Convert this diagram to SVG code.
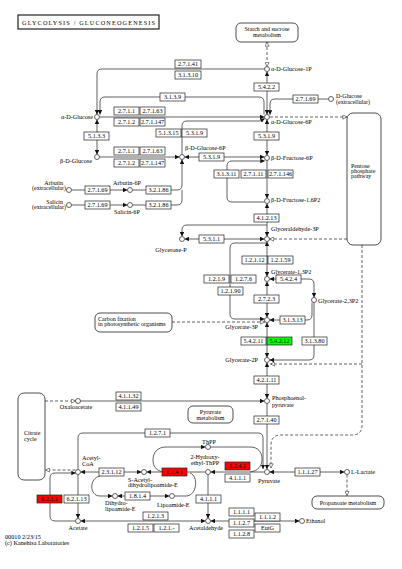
<svg xmlns="http://www.w3.org/2000/svg" width="402" height="569" viewBox="0 0 402 569">
<style>
.c{fill:none;stroke:#3a3a3a;stroke-width:0.8}
.d{fill:none;stroke:#3a3a3a;stroke-width:0.8;stroke-dasharray:3,2}
.n{fill:#fff;stroke:#222;stroke-width:0.7}
.b{fill:#fff;stroke:#222;stroke-width:0.7}
.r{fill:#ff0000;stroke:#222;stroke-width:0.7}
.g{fill:#00ff00;stroke:#222;stroke-width:0.7}
.m{fill:#fff;stroke:#222;stroke-width:0.8}
text{font-family:"Liberation Serif","DejaVu Serif",serif;font-size:6.2px;fill:#000}
.t{text-anchor:middle}
.e{text-anchor:end}
.s{font-size:6px}
</style>
<defs>
<marker id="a" viewBox="0 0 4 4" refX="4" refY="2" markerWidth="4.5" markerHeight="4.5" markerUnits="userSpaceOnUse" orient="auto-start-reverse"><path d="M0,0 L4,2 L0,4 z" fill="#111"/></marker>
<marker id="o" viewBox="0 0 5 5" refX="4.6" refY="2.5" markerWidth="5" markerHeight="5" markerUnits="userSpaceOnUse" orient="auto-start-reverse"><path d="M0.4,0.4 L4.6,2.5 L0.4,4.6 z" fill="#fff" stroke="#333" stroke-width="0.6"/></marker>
</defs>
<rect width="402" height="569" fill="#fff"/>

<g id="title"><rect x="18" y="15" width="141" height="14" fill="#fff" stroke="#222" stroke-width="1.2"/><text x="22" y="24.5" font-size="7.5" textLength="133">GLYCOLYSIS / GLUCONEOGENESIS</text></g>

<g id="connectors">
<path class="d" d="M267,42 V66.5" marker-start="url(#o)" marker-end="url(#o)"/>
<path class="c" d="M264.5,69 H102 Q97,69 97,74 V114.5" marker-end="url(#a)"/>
<path class="c" d="M100,114.5 V102 Q100,97 105,97 H259 Q264,97 264,102 V114.5" marker-start="url(#a)"/>
<path class="c" d="M328.5,99 H275 Q270,99 270,104 V114.8" marker-end="url(#a)"/>
<path class="c" d="M267,71.5 V114.5" marker-start="url(#a)" marker-end="url(#a)"/>
<path class="c" d="M99.5,117 H264.5" marker-end="url(#a)"/>
<path class="d" d="M270,117 H347" marker-end="url(#o)"/>
<path class="c" d="M97,119.5 V154.5" marker-start="url(#a)" marker-end="url(#a)"/>
<path class="c" d="M99.5,157 H179.5" marker-end="url(#a)"/>
<path class="c" d="M182,154.5 V126 Q182,121 187,121 H260 L264.8,118.6" marker-end="url(#a)"/>
<path class="c" d="M184.5,157 H264.5" marker-start="url(#a)" marker-end="url(#a)"/>
<path class="c" d="M267,119.5 V155.5" marker-start="url(#a)" marker-end="url(#a)"/>
<path class="c" d="M71.5,190 H127.5" marker-end="url(#a)"/>
<path class="c" d="M71.5,205 H127.5" marker-end="url(#a)"/>
<path class="c" d="M132.5,190 H177 Q182,190 182,185 V159.5" marker-end="url(#a)"/>
<path class="c" d="M132.5,205 H177 Q182,205 182,200 V190"/>
<path class="c" d="M267,160.5 V198.5" marker-end="url(#a)"/>
<path class="c" d="M264.5,202 H232 Q227,202 227,197 V166 Q227,161 232,161 H264.8" marker-end="url(#a)"/>
<path class="c" d="M267,203.5 V236.5" marker-start="url(#a)" marker-end="url(#a)"/>
<path class="c" d="M267,225 H187 Q182,225 182,230 V236.5" marker-end="url(#a)"/>
<path class="c" d="M184.5,239 H264.5" marker-start="url(#a)" marker-end="url(#a)"/>
<path class="d" d="M347,239 H269.5" marker-end="url(#o)"/>
<path class="c" d="M267,241.5 V276.5" marker-start="url(#a)" marker-end="url(#a)"/>
<path class="c" d="M267,243 H235 Q230,243 230,248 V314 Q230,319 235,319 H264.5" marker-end="url(#a)"/>
<path class="c" d="M269.5,279 H309 Q314,279 314,284 V297.5" marker-start="url(#a)" marker-end="url(#a)"/>
<path class="c" d="M267,281.5 V317.5" marker-start="url(#a)" marker-end="url(#a)"/>
<path class="c" d="M269.5,320 H307 Q312,320 312,315 V302.5" marker-start="url(#a)"/>
<path class="c" d="M314,302.5 V355 Q314,360 309,360 H269.5" marker-end="url(#a)"/>
<path class="d" d="M172,322 H264.8" marker-end="url(#o)"/>
<path class="c" d="M267,322.5 V357.5" marker-start="url(#a)" marker-end="url(#a)"/>
<path class="d" d="M362,245 V425 Q362,435 352,435 H281 Q271,435 271,445 V468" marker-end="url(#o)"/>
<path class="d" d="M362,364 H270.5" marker-end="url(#o)"/>
<path class="c" d="M267,362.5 V398.5" marker-start="url(#a)" marker-end="url(#a)"/>
<path class="c" d="M80.5,401 H264.5" marker-end="url(#a)"/>
<path class="d" d="M45,401 H75.5" marker-end="url(#o)"/>
<path class="c" d="M267,403.5 V469.3" marker-end="url(#a)"/>
<path class="c" d="M78,469.5 V438 Q78,433 83,433 H258 Q263,433 263,438 V469" marker-end="url(#a)"/>
<path class="c" d="M269.5,472 H344.5" marker-start="url(#a)" marker-end="url(#a)"/>
<path class="d" d="M347,474.5 V495.5" marker-end="url(#o)"/>
<path class="c" d="M264.5,472 H210.5" marker-end="url(#a)"/>
<path class="c" d="M166,472 C157,472 153,467 153,460 C153,452 158,447 166,447 H205.5" marker-end="url(#a)"/>
<path class="c" d="M210.5,447 H250 C258,447 262,452 262,459 C262,466 258,471 250,472"/>
<path class="c" d="M205.5,472 H146.5" marker-end="url(#a)"/>
<path class="c" d="M80.5,472 H141.5" marker-start="url(#a)" marker-end="url(#a)"/>
<path class="c" d="M100,476 C89,478 89,496 100,496 H112.5" marker-end="url(#a)"/>
<path class="c" d="M117.5,496 H169.5" marker-start="url(#a)" marker-end="url(#a)"/>
<path class="c" d="M174.5,496 H186 C197,496 199,476 190,473"/>
<path class="c" d="M208,474.5 V518.5" marker-end="url(#a)"/>
<path class="c" d="M80.5,521 H205.5" marker-start="url(#a)" marker-end="url(#a)"/>
<path class="c" d="M210.5,521 H299.5" marker-start="url(#a)" marker-end="url(#a)"/>
<path class="c" d="M78,474.5 V518.5" marker-end="url(#a)"/>
<path class="c" d="M75.5,521 H55 Q50,521 50,516 V478 Q50,473 55,473 H75.8" marker-end="url(#a)"/>
<path class="d" d="M75.5,470 H45.5" marker-end="url(#o)"/>
</g>

<g id="maps">
<g id="map-starch"><rect class="m" x="236" y="23" width="62" height="19" rx="5"/><text class="t s" x="267" y="31">Starch and sucrose</text><text class="t s" x="267" y="36.5">metabolism</text></g>
<g id="map-ppp"><rect class="m" x="347" y="113" width="34" height="132" rx="6"/><text class="s" x="351" y="168">Pentose</text><text class="s" x="351" y="173">phosphate</text><text class="s" x="351" y="178">pathway</text></g>
<g id="map-carbon"><rect class="m" x="95" y="313" width="77" height="19" rx="5"/><text class="s" x="98" y="320.5">Carbon fixation</text><text class="s" x="98" y="326">in photosynthetic organisms</text></g>
<g id="map-citrate"><rect class="m" x="18" y="393" width="27" height="87" rx="6"/><text class="s" x="24" y="435">Citrate</text><text class="s" x="24" y="441">cycle</text></g>
<g id="map-pyruvate"><rect class="m" x="188" y="406" width="45" height="17" rx="5"/><text class="t s" x="210.5" y="413.5">Pyruvate</text><text class="t s" x="210.5" y="419.5">metabolism</text></g>
<g id="map-propanoate"><rect class="m" x="312" y="496" width="72" height="13" rx="5"/><text class="t s" x="348" y="504.5">Propanoate metabolism</text></g>
</g>

<g id="enzymes">
<g id="e2_7_1_41"><rect class="b" x="175" y="60" width="26" height="8"/><text class="t" x="188" y="66.2">2.7.1.41</text></g>
<g id="e3_1_3_10"><rect class="b" x="175" y="71" width="26" height="8"/><text class="t" x="188" y="77.2">3.1.3.10</text></g>
<g id="e5_4_2_2"><rect class="b" x="254" y="83" width="25" height="8"/><text class="t" x="266.5" y="89.2">5.4.2.2</text></g>
<g id="e3_1_3_9"><rect class="b" x="160" y="93" width="25" height="8"/><text class="t" x="172.5" y="99.2">3.1.3.9</text></g>
<g id="e2_7_1_69a"><rect class="b" x="293" y="95" width="25" height="8"/><text class="t" x="305.5" y="101.2">2.7.1.69</text></g>
<g id="e2_7_1_1a"><rect class="b" x="114" y="107" width="25" height="8"/><text class="t" x="126.5" y="113.2">2.7.1.1</text></g>
<g id="e2_7_1_63a"><rect class="b" x="140" y="107" width="25" height="8"/><text class="t" x="152.5" y="113.2">2.7.1.63</text></g>
<g id="e2_7_1_2a"><rect class="b" x="114" y="118" width="25" height="8"/><text class="t" x="126.5" y="124.2">2.7.1.2</text></g>
<g id="e2_7_1_147a"><rect class="b" x="140" y="118" width="25" height="8"/><text class="t" x="152.5" y="124.2">2.7.1.147</text></g>
<g id="e5_1_3_3"><rect class="b" x="84" y="132" width="25" height="8"/><text class="t" x="96.5" y="138.2">5.1.3.3</text></g>
<g id="e5_1_3_15"><rect class="b" x="156" y="129" width="25" height="8"/><text class="t" x="168.5" y="135.2">5.1.3.15</text></g>
<g id="e5_3_1_9a"><rect class="b" x="182" y="129" width="25" height="8"/><text class="t" x="194.5" y="135.2">5.3.1.9</text></g>
<g id="e5_3_1_9b"><rect class="b" x="254" y="132" width="25" height="8"/><text class="t" x="266.5" y="138.2">5.3.1.9</text></g>
<g id="e2_7_1_1b"><rect class="b" x="114" y="147" width="25" height="8"/><text class="t" x="126.5" y="153.2">2.7.1.1</text></g>
<g id="e2_7_1_63b"><rect class="b" x="140" y="147" width="25" height="8"/><text class="t" x="152.5" y="153.2">2.7.1.63</text></g>
<g id="e2_7_1_2b"><rect class="b" x="114" y="159" width="25" height="8"/><text class="t" x="126.5" y="165.2">2.7.1.2</text></g>
<g id="e2_7_1_147b"><rect class="b" x="140" y="159" width="25" height="8"/><text class="t" x="152.5" y="165.2">2.7.1.147</text></g>
<g id="e5_3_1_9c"><rect class="b" x="199" y="153" width="25" height="8"/><text class="t" x="211.5" y="159.2">5.3.1.9</text></g>
<g id="e2_7_1_69b"><rect class="b" x="85" y="186" width="25" height="8"/><text class="t" x="97.5" y="192.2">2.7.1.69</text></g>
<g id="e2_7_1_69c"><rect class="b" x="85" y="201" width="25" height="8"/><text class="t" x="97.5" y="207.2">2.7.1.69</text></g>
<g id="e3_2_1_86a"><rect class="b" x="146" y="186" width="25" height="8"/><text class="t" x="158.5" y="192.2">3.2.1.86</text></g>
<g id="e3_2_1_86b"><rect class="b" x="146" y="201" width="25" height="8"/><text class="t" x="158.5" y="207.2">3.2.1.86</text></g>
<g id="e3_1_3_11"><rect class="b" x="214" y="170" width="25" height="8"/><text class="t" x="226.5" y="176.2">3.1.3.11</text></g>
<g id="e2_7_1_11"><rect class="b" x="241" y="170" width="25" height="8"/><text class="t" x="253.5" y="176.2">2.7.1.11</text></g>
<g id="e2_7_1_146"><rect class="b" x="268" y="170" width="25" height="8"/><text class="t" x="280.5" y="176.2">2.7.1.146</text></g>
<g id="e4_1_2_13"><rect class="b" x="254" y="214" width="25" height="8"/><text class="t" x="266.5" y="220.2">4.1.2.13</text></g>
<g id="e5_3_1_1"><rect class="b" x="199" y="235" width="25" height="8"/><text class="t" x="211.5" y="241.2">5.3.1.1</text></g>
<g id="e1_2_1_12"><rect class="b" x="242" y="256" width="25" height="8"/><text class="t" x="254.5" y="262.2">1.2.1.12</text></g>
<g id="e1_2_1_59"><rect class="b" x="268" y="256" width="25" height="8"/><text class="t" x="280.5" y="262.2">1.2.1.59</text></g>
<g id="e1_2_1_9"><rect class="b" x="204" y="275" width="25" height="8"/><text class="t" x="216.5" y="281.2">1.2.1.9</text></g>
<g id="e1_2_7_6"><rect class="b" x="231" y="275" width="25" height="8"/><text class="t" x="243.5" y="281.2">1.2.7.6</text></g>
<g id="e1_2_1_90"><rect class="b" x="218" y="287" width="25" height="8"/><text class="t" x="230.5" y="293.2">1.2.1.90</text></g>
<g id="e5_4_2_4"><rect class="b" x="276" y="275" width="25" height="8"/><text class="t" x="288.5" y="281.2">5.4.2.4</text></g>
<g id="e2_7_2_3"><rect class="b" x="254" y="295" width="25" height="8"/><text class="t" x="266.5" y="301.2">2.7.2.3</text></g>
<g id="e3_1_3_13"><rect class="b" x="280" y="316" width="25" height="8"/><text class="t" x="292.5" y="322.2">3.1.3.13</text></g>
<g id="e5_4_2_11"><rect class="b" x="241" y="337" width="25" height="8"/><text class="t" x="253.5" y="343.2">5.4.2.11</text></g>
<g id="e5_4_2_12"><rect class="g" x="267" y="337" width="25" height="8"/><text class="t" x="279.5" y="343.2">5.4.2.12</text></g>
<g id="e3_1_3_80"><rect class="b" x="302" y="337" width="25" height="8"/><text class="t" x="314.5" y="343.2">3.1.3.80</text></g>
<g id="e4_2_1_11"><rect class="b" x="254" y="376" width="25" height="8"/><text class="t" x="266.5" y="382.2">4.2.1.11</text></g>
<g id="e4_1_1_32"><rect class="b" x="116" y="392" width="25" height="8"/><text class="t" x="128.5" y="398.2">4.1.1.32</text></g>
<g id="e4_1_1_49"><rect class="b" x="116" y="403" width="25" height="8"/><text class="t" x="128.5" y="409.2">4.1.1.49</text></g>
<g id="e2_7_1_40"><rect class="b" x="254" y="416" width="25" height="8"/><text class="t" x="266.5" y="422.2">2.7.1.40</text></g>
<g id="e1_2_7_1"><rect class="b" x="145" y="429" width="25" height="8"/><text class="t" x="157.5" y="435.2">1.2.7.1</text></g>
<g id="e2_3_1_12"><rect class="b" x="99" y="468" width="25" height="8"/><text class="t" x="111.5" y="474.2">2.3.1.12</text></g>
<g id="e1_2_4_1a"><rect class="r" x="162" y="468" width="25" height="8"/><text class="t" x="174.5" y="474.2">1.2.4.1</text></g>
<g id="e1_2_4_1b"><rect class="r" x="225" y="462" width="25" height="8"/><text class="t" x="237.5" y="468.2">1.2.4.1</text></g>
<g id="e4_1_1_1a"><rect class="b" x="225" y="474" width="25" height="8"/><text class="t" x="237.5" y="480.2">4.1.1.1</text></g>
<g id="e1_1_1_27"><rect class="b" x="295" y="468" width="25" height="8"/><text class="t" x="307.5" y="474.2">1.1.1.27</text></g>
<g id="e6_2_1_1"><rect class="r" x="37" y="495" width="25" height="8"/><text class="t" x="49.5" y="501.2">6.2.1.1</text></g>
<g id="e6_2_1_13"><rect class="b" x="64" y="495" width="25" height="8"/><text class="t" x="76.5" y="501.2">6.2.1.13</text></g>
<g id="e1_8_1_4"><rect class="b" x="125" y="492" width="25" height="8"/><text class="t" x="137.5" y="498.2">1.8.1.4</text></g>
<g id="e4_1_1_1b"><rect class="b" x="196" y="495" width="25" height="8"/><text class="t" x="208.5" y="501.2">4.1.1.1</text></g>
<g id="e1_2_1_3"><rect class="b" x="143" y="512" width="25" height="8"/><text class="t" x="155.5" y="518.2">1.2.1.3</text></g>
<g id="e1_2_1_5"><rect class="b" x="128" y="524" width="25" height="8"/><text class="t" x="140.5" y="530.2">1.2.1.5</text></g>
<g id="e1_2_1_x"><rect class="b" x="154" y="524" width="25" height="8"/><text class="t" x="166.5" y="530.2">1.2.1.-</text></g>
<g id="e1_1_1_1"><rect class="b" x="229" y="508" width="25" height="8"/><text class="t" x="241.5" y="514.2">1.1.1.1</text></g>
<g id="e1_1_2_7"><rect class="b" x="229" y="519" width="25" height="8"/><text class="t" x="241.5" y="525.2">1.1.2.7</text></g>
<g id="e1_1_2_8"><rect class="b" x="229" y="530" width="25" height="8"/><text class="t" x="241.5" y="536.2">1.1.2.8</text></g>
<g id="e1_1_1_2"><rect class="b" x="255" y="513" width="25" height="8"/><text class="t" x="267.5" y="519.2">1.1.1.2</text></g>
<g id="eEutG"><rect class="b" x="255" y="524" width="25" height="8"/><text class="t" x="267.5" y="530.2">EutG</text></g>
</g>

<g id="compounds">
<g id="c_aG1P"><circle class="n" cx="267" cy="69" r="2.5"/><text x="271" y="71">α-D-Glucose-1P</text></g>
<g id="c_aG6P"><circle class="n" cx="267" cy="117" r="2.5"/><text x="271" y="123.5">α-D-Glucose-6P</text></g>
<g id="c_aGlc"><circle class="n" cx="97" cy="117" r="2.5"/><text class="e" x="93" y="119">α-D-Glucose</text></g>
<g id="c_Dglc"><circle class="n" cx="331" cy="99" r="2.5"/><text class="s" x="336" y="98">D-Glucose</text><text class="s" x="336" y="103.5">(extracellular)</text></g>
<g id="c_bGlc"><circle class="n" cx="97" cy="157" r="2.5"/><text class="e" x="92" y="163">β-D-Glucose</text></g>
<g id="c_bG6P"><circle class="n" cx="182" cy="157" r="2.5"/><text x="185" y="150">β-D-Glucose-6P</text></g>
<g id="c_bF6P"><circle class="n" cx="267" cy="158" r="2.5"/><text x="271" y="160">β-D-Fructose-6P</text></g>
<g id="c_arbutin"><circle class="n" cx="69" cy="190" r="2.5"/><text class="e s" x="63" y="185">Arbutin</text><text class="e s" x="66" y="190">(extracellular)</text></g>
<g id="c_salicin"><circle class="n" cx="69" cy="205" r="2.5"/><text class="e s" x="63" y="203.5">Salicin</text><text class="e s" x="66" y="208.5">(extracellular)</text></g>
<g id="c_arbutin6P"><circle class="n" cx="130" cy="190" r="2.5"/><text class="t" x="127" y="185">Arbutin-6P</text></g>
<g id="c_salicin6P"><circle class="n" cx="130" cy="205" r="2.5"/><text class="t" x="127" y="214">Salicin-6P</text></g>
<g id="c_F16P"><circle class="n" cx="267" cy="201" r="2.5"/><text x="271" y="202">β-D-Fructose-1,6P2</text></g>
<g id="c_DHAP"><circle class="n" cx="182" cy="239" r="2.5"/><text class="t" x="171" y="252">Glycerone-P</text></g>
<g id="c_GAP"><circle class="n" cx="267" cy="239" r="2.5"/><text x="271" y="231">Glyceraldehyde-3P</text></g>
<g id="c_G13P"><circle class="n" cx="267" cy="279" r="2.5"/><text x="271" y="274">Glycerate-1,3P2</text></g>
<g id="c_G23P"><circle class="n" cx="314" cy="300" r="2.5"/><text x="318" y="303">Glycerate-2,3P2</text></g>
<g id="c_G3P"><circle class="n" cx="267" cy="320" r="2.5"/><text class="e" x="258" y="329">Glycerate-3P</text></g>
<g id="c_G2P"><circle class="n" cx="267" cy="360" r="2.5"/><text class="e" x="258" y="362">Glycerate-2P</text></g>
<g id="c_PEP"><circle class="n" cx="267" cy="401" r="2.5"/><text x="272" y="400">Phosphoenol-</text><text x="272" y="406.5">pyruvate</text></g>
<g id="c_OAA"><circle class="n" cx="78" cy="401" r="2.5"/><text class="t" x="76" y="409">Oxaloacetate</text></g>
<g id="c_Pyr"><circle class="n" cx="267" cy="472" r="2.5"/><text x="258" y="483">Pyruvate</text></g>
<g id="c_Lac"><circle class="n" cx="347" cy="472" r="2.5"/><text x="351" y="474">L-Lactate</text></g>
<g id="c_AcCoA"><circle class="n" cx="78" cy="472" r="2.5"/><text x="82" y="460">Acetyl-</text><text x="82" y="465.5">CoA</text></g>
<g id="c_SAc"><circle class="n" cx="144" cy="472" r="2.5"/><text x="128" y="481.5">S-Acetyl-</text><text x="128" y="487">dihydrolipoamide-E</text></g>
<g id="c_HETPP"><circle class="n" cx="208" cy="472" r="2.5"/><text class="t" x="205" y="459">2-Hydroxy-</text><text class="t" x="205" y="465">ethyl-ThPP</text></g>
<g id="c_ThPP"><circle class="n" cx="208" cy="447" r="2.5"/><text class="t" x="209" y="444">ThPP</text></g>
<g id="c_DHL"><circle class="n" cx="115" cy="496" r="2.5"/><text x="105" y="505">Dihydro-</text><text x="105" y="510.5">lipoamide-E</text></g>
<g id="c_LipE"><circle class="n" cx="172" cy="496" r="2.5"/><text x="157" y="507">Lipoamide-E</text></g>
<g id="c_Acetate"><circle class="n" cx="78" cy="521" r="2.5"/><text class="t" x="78" y="530">Acetate</text></g>
<g id="c_Acetaldehyde"><circle class="n" cx="208" cy="521" r="2.5"/><text class="t" x="206" y="530">Acetaldehyde</text></g>
<g id="c_Ethanol"><circle class="n" cx="302" cy="521" r="2.5"/><text x="306" y="523">Ethanol</text></g>
</g>

<g id="footer"><text x="5" y="539">00010 2/23/15</text><text x="5" y="545">(c) Kanehisa Laboratories</text></g>
</svg>
